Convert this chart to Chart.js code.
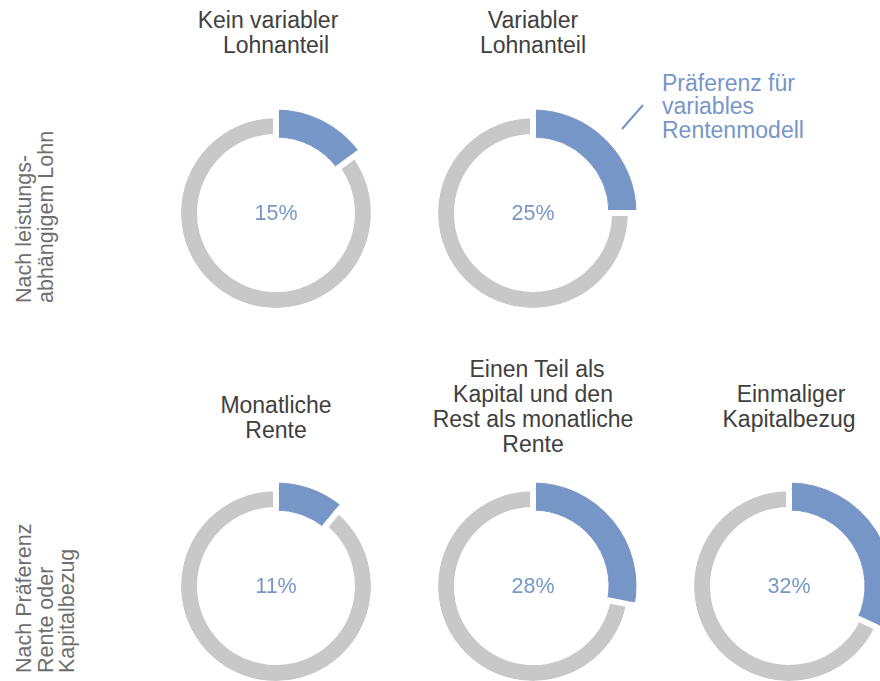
<!DOCTYPE html>
<html lang="de">
<head>
<meta charset="utf-8">
<script src="https://cdn.jsdelivr.net/npm/chart.js@4.4.1/dist/chart.umd.min.js"></script>
<style>
  html, body { margin:0; padding:0; background:#fff; }
  body { width:880px; height:681px; position:relative; overflow:hidden;
         font-family:"Liberation Sans", Arial, Helvetica, sans-serif; }
  canvas { position:absolute; }
  .title { position:absolute; width:260px; text-align:center; font-size:23px; line-height:25px; color:#404040; }
  .pct   { position:absolute; width:100px; text-align:center; font-size:21.5px; line-height:24px; color:#7796c8; }
  .row   { position:absolute; transform-origin:0 0; transform:rotate(-90deg);
           font-size:21.5px; line-height:21.5px; color:#6e6e6e; white-space:nowrap; }
  .note  { position:absolute; font-size:23px; line-height:23.3px; color:#7796c8; white-space:nowrap; }
  svg    { position:absolute; left:0; top:0; }
</style>
</head>
<body>
<svg width="880" height="681"><line x1="622" y1="129" x2="643" y2="105" stroke="#7796c8" stroke-width="2"/></svg>
<script>
// ===== Daten =====
const panelTitles = [
  ['Kein variabler', 'Lohnanteil'],
  ['Variabler', 'Lohnanteil'],
  ['Monatliche', 'Rente'],
  ['Einen Teil als', 'Kapital und den', 'Rest als monatliche', 'Rente'],
  ['Einmaliger', 'Kapitalbezug']
];
const shares = [15, 25, 11, 28, 32];          // Präferenz für variables Rentenmodell (%)
const rowLabels = [
  ['Nach leistungs-', 'abhängigem Lohn'],
  ['Nach Präferenz', 'Rente oder', 'Kapitalbezug']
];
const noteLines = ['Präferenz für', 'variables', 'Rentenmodell'];

// ===== Layout =====
const centers  = [[276, 213], [533, 213], [276, 586], [533, 586], [789, 586]];
const titleTop = [8, 8, 393, 357, 382];
const firstLineShift = [-8, 0, 0, 4, 2];   // im Original ist die erste Titelzeile leicht versetzt
const rowPos   = [[14, 303], [14, 673]];

const BLUE = '#7796c8';
const GRAY = '#c8c8c8';
const GAP  = 6;

function addDiv(cls, html, css) {
  const d = document.createElement('div');
  d.className = cls;
  d.innerHTML = html;
  Object.assign(d.style, css);
  document.body.appendChild(d);
  return d;
}

function makeDonut(i) {
  const [cx, cy] = centers[i];
  const share = shares[i];
  const cv = document.createElement('canvas');
  cv.width = 240; cv.height = 240;
  cv.style.left = (cx - 120) + 'px';
  cv.style.top  = (cy - 120) + 'px';
  document.body.appendChild(cv);

  new Chart(cv, {
    type: 'doughnut',
    data: {
      labels: ['Präferenz für variables Rentenmodell', 'Übrige'],
      datasets: [
        { // äußerer Streifen: nur der blaue Anteil ragt heraus
          data: [share, 100 - share],
          backgroundColor: [BLUE, 'rgba(255,255,255,0)'],
          borderColor: [BLUE, '#fff'],
          borderWidth: [1, GAP],
          weight: 5
        },
        { // eigentlicher Ring
          data: [share, 100 - share],
          backgroundColor: [BLUE, GRAY],
          borderColor: [BLUE, '#fff'],
          borderWidth: [1, GAP],
          weight: 22
        }
      ]
    },
    options: {
      responsive: false,
      animation: false,
      events: [],
      radius: 103,
      cutout: '73.8%',
      layout: { padding: 0 },
      plugins: { legend: { display: false }, tooltip: { enabled: false } }
    }
  });

  addDiv('pct', share + '%', { left: (cx - 50) + 'px', top: (cy - 12) + 'px' });

  const lines = panelTitles[i].map((t, k) =>
    k === 0 ? `<span style="position:relative;left:${firstLineShift[i]}px">${t}</span>` : t);
  addDiv('title', lines.join('<br>'), { left: (cx - 130) + 'px', top: titleTop[i] + 'px' });
}

shares.forEach((_, i) => makeDonut(i));

rowLabels.forEach((lines, r) => {
  addDiv('row', lines.join('<br>'), { left: rowPos[r][0] + 'px', top: rowPos[r][1] + 'px' });
});

addDiv('note', noteLines.join('<br>'), { left: '662px', top: '72px' });
</script>
</body>
</html>
